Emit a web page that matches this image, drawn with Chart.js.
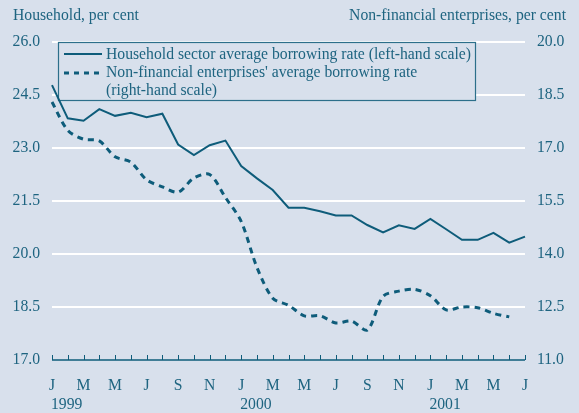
<!DOCTYPE html>
<html lang="en">
<head>
    <meta charset="UTF-8">
    <title>Borrowing rates</title>
    <script src="https://cdn.jsdelivr.net/npm/chart.js"></script>
    <style>
        body {
            margin: 0;
            padding: 0;
            background-color: #d8e0ec;
        }
        .chart-container {
            position: relative;
            width: 579px;
            height: 413px;
        }
    </style>
</head>
<body>
    <div class="chart-container">
        <canvas id="myChart" width="579" height="413"></canvas>
    </div>

    <script>
        // Data: monthly, Jan 1999 - Jul 2001
        const monthLetters = ['J', 'F', 'M', 'A', 'M', 'J', 'J', 'A', 'S', 'O', 'N', 'D',
                              'J', 'F', 'M', 'A', 'M', 'J', 'J', 'A', 'S', 'O', 'N', 'D',
                              'J', 'F', 'M', 'A', 'M', 'J', 'J'];
        const years = ['1999', '2000', '2001'];
        const yearIndex = [0, 12, 24];
        const household = [24.78, 23.84, 23.77, 24.10, 23.91, 24.00, 23.87, 23.97, 23.10, 22.80,
                           23.08, 23.21, 22.49, 22.14, 21.81, 21.31, 21.31, 21.21, 21.09, 21.09,
                           20.82, 20.61, 20.81, 20.71, 20.99, 20.70, 20.40, 20.40, 20.60, 20.32, 20.49];
        const enterprises = [18.30, 17.50, 17.25, 17.20, 16.75, 16.60, 16.10, 15.90, 15.75, 16.15,
                             16.25, 15.60, 14.92, 13.62, 12.75, 12.55, 12.25, 12.25, 12.05, 12.10,
                             11.85, 12.80, 12.95, 13.00, 12.82, 12.42, 12.50, 12.48, 12.32, 12.22, null];
        const leftTicks = [17.0, 18.5, 20.0, 21.5, 23.0, 24.5, 26.0];
        const rightTicks = [11.0, 12.5, 14.0, 15.5, 17.0, 18.5, 20.0];

        const lineColor = '#0e5c7a';
        const textColor = '#1e6480';
        const bgColor = '#d8e0ec';
        const fontFamily = '"Liberation Serif", "Times New Roman", serif';
        const fontSize = 15.7;

        // Titles, legend box, axis line, tick marks, years
        const decorations = {
            id: 'decorations',
            beforeDatasetsDraw(chart) {
                const ctx = chart.ctx;
                ctx.save();
                ctx.fillStyle = bgColor;
                ctx.fillRect(58, 42, 417, 58);
                ctx.strokeStyle = '#2c6f8a';
                ctx.lineWidth = 1.2;
                ctx.strokeRect(58.5, 42.5, 417, 58);

                ctx.strokeStyle = lineColor;
                ctx.lineWidth = 2;
                ctx.beginPath();
                ctx.moveTo(64, 54);
                ctx.lineTo(102, 54);
                ctx.stroke();
                ctx.lineWidth = 3;
                ctx.setLineDash([5, 5]);
                ctx.beginPath();
                ctx.moveTo(64, 73);
                ctx.lineTo(104, 73);
                ctx.stroke();
                ctx.setLineDash([]);

                ctx.fillStyle = textColor;
                ctx.font = fontSize + 'px ' + fontFamily;
                ctx.textBaseline = 'middle';
                ctx.textAlign = 'left';
                ctx.fillText('Household sector average borrowing rate (left-hand scale)', 106, 55);
                ctx.fillText("Non-financial enterprises' average borrowing rate", 106, 73);
                ctx.fillText('(right-hand scale)', 106, 91);
                ctx.restore();
            },
            afterDraw(chart) {
                const ctx = chart.ctx;
                const area = chart.chartArea;
                const x = chart.scales.x;
                ctx.save();
                ctx.strokeStyle = lineColor;
                ctx.lineWidth = 1.5;
                ctx.beginPath();
                ctx.moveTo(area.left, area.bottom);
                ctx.lineTo(area.right, area.bottom);
                ctx.stroke();
                ctx.lineWidth = 1;
                for (let i = 0; i < monthLetters.length; i++) {
                    const px = Math.round(x.getPixelForValue(i)) + 0.5;
                    ctx.beginPath();
                    ctx.moveTo(px, area.bottom);
                    ctx.lineTo(px, area.bottom - 5);
                    ctx.stroke();
                }

                ctx.fillStyle = textColor;
                ctx.font = fontSize + 'px ' + fontFamily;
                ctx.textBaseline = 'middle';
                ctx.textAlign = 'left';
                years.forEach(function(y, k) {
                    ctx.fillText(y, x.getPixelForValue(yearIndex[k]) - 1, 405);
                });
                ctx.fillText('Household, per cent', 13, 16);
                ctx.textAlign = 'right';
                ctx.fillText('Non-financial enterprises, per cent', 566, 16);
                ctx.restore();
            }
        };

        const config = {
            type: 'line',
            data: {
                labels: monthLetters,
                datasets: [
                    {
                        label: 'Household sector average borrowing rate (left-hand scale)',
                        data: household,
                        yAxisID: 'y',
                        borderColor: lineColor,
                        borderWidth: 2,
                        pointRadius: 0,
                        tension: 0,
                        fill: false
                    },
                    {
                        label: "Non-financial enterprises' average borrowing rate (right-hand scale)",
                        data: enterprises,
                        yAxisID: 'y1',
                        borderColor: lineColor,
                        borderWidth: 3,
                        borderDash: [6, 5],
                        pointRadius: 0,
                        tension: 0.3,
                        fill: false
                    }
                ]
            },
            options: {
                responsive: false,
                animation: false,
                layout: { padding: { top: 42, left: 0, right: 0, bottom: 0 } },
                plugins: {
                    legend: { display: false },
                    tooltip: { enabled: false }
                },
                scales: {
                    x: {
                        offset: false,
                        grid: { display: false, drawTicks: false },
                        border: { display: false },
                        afterFit(scale) { scale.height = 53; },
                        ticks: {
                            autoSkip: false,
                            maxRotation: 0,
                            padding: 16,
                            color: textColor,
                            font: { family: fontFamily, size: fontSize },
                            callback: function(value, index) {
                                return index % 2 === 0 ? monthLetters[index] : '';
                            }
                        }
                    },
                    y: {
                        position: 'left',
                        min: 17,
                        max: 26,
                        afterFit(scale) { scale.width = 52; },
                        afterBuildTicks(scale) {
                            scale.ticks = leftTicks.map(v => ({ value: v }));
                        },
                        grid: {
                            drawTicks: false,
                            lineWidth: 2,
                            color: ctx => ctx.tick && ctx.tick.value === 17 ? 'rgba(0,0,0,0)' : '#ffffff'
                        },
                        border: { display: false },
                        ticks: {
                            padding: 12,
                            color: textColor,
                            font: { family: fontFamily, size: fontSize },
                            callback: v => v.toFixed(1)
                        }
                    },
                    y1: {
                        position: 'right',
                        min: 11,
                        max: 20,
                        afterFit(scale) { scale.width = 54; },
                        afterBuildTicks(scale) {
                            scale.ticks = rightTicks.map(v => ({ value: v }));
                        },
                        grid: { drawOnChartArea: false, drawTicks: false },
                        border: { display: false },
                        ticks: {
                            padding: 12,
                            color: textColor,
                            font: { family: fontFamily, size: fontSize },
                            callback: v => v.toFixed(1)
                        }
                    }
                }
            },
            plugins: [decorations]
        };

        const ctx = document.getElementById('myChart').getContext('2d');
        const myChart = new Chart(ctx, config);
    </script>
</body>
</html>
